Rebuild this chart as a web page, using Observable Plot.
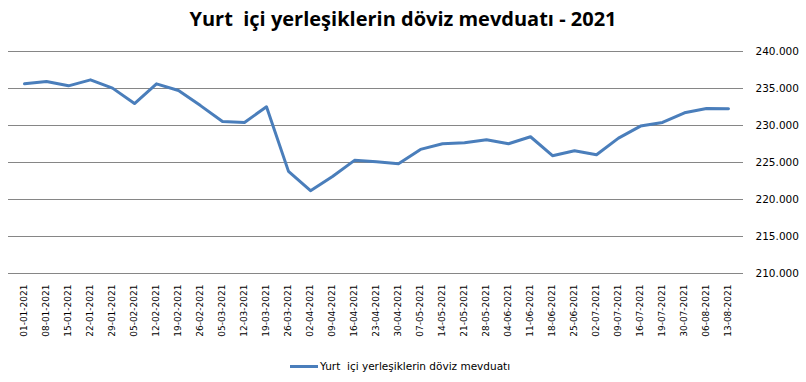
<!DOCTYPE html>
<html>
<head>
<meta charset="utf-8">
<script src="https://cdn.jsdelivr.net/npm/d3@7"></script>
<script src="https://cdn.jsdelivr.net/npm/@observablehq/plot@0.6"></script>
<style>
  html, body { margin: 0; padding: 0; background: #fff; }
  #wrap { position: relative; width: 806px; height: 382px; overflow: hidden; }
  #title { position: absolute; left: 0; top: 5px; width: 806px; text-align: center; white-space: pre;
           font-family: "Open Sans", sans-serif; font-weight: 700; font-size: 20px; color: #000; }
  #chart { position: absolute; left: 0; top: 38px; }
  #legend { position: absolute; left: 290px; top: 360px; font-family: "DejaVu Sans", sans-serif;
            font-size: 10.5px; color: #000; display: flex; align-items: center; white-space: pre; }
  #legend .sw { display: inline-block; width: 28px; height: 3px; background: #4A7EBB; margin-right: 2px; }
</style>
</head>
<body>
<div id="wrap">
  <div id="title">Yurt  içi yerleşiklerin döviz mevduatı - 2021</div>
  <div id="chart"></div>
  <div id="legend"><span class="sw"></span><span>Yurt  içi yerleşiklerin döviz mevduatı</span></div>
</div>
<script>
const seriesName = "Yurt  içi yerleşiklerin döviz mevduatı";
const dates = ["01-01-2021","08-01-2021","15-01-2021","22-01-2021","29-01-2021","05-02-2021","12-02-2021","19-02-2021","26-02-2021","05-03-2021","12-03-2021","19-03-2021","26-03-2021","02-04-2021","09-04-2021","16-04-2021","23-04-2021","30-04-2021","07-05-2021","14-05-2021","21-05-2021","28-05-2021","04-06-2021","11-06-2021","18-06-2021","25-06-2021","02-07-2021","09-07-2021","16-07-2021","19-07-2021","30-07-2021","06-08-2021","13-08-2021"];
const values = [235630,235950,235360,236170,235050,232970,235630,234730,232690,230550,230410,232530,223800,221190,223100,225290,225100,224840,226770,227540,227670,228080,227540,228480,225920,226590,226050,228300,229920,230410,231720,232300,232260];
const yTicks = [210000,215000,220000,225000,230000,235000,240000];

const data = dates.map((d, i) => ({date: d, value: values[i]}));
const fmt = d3.formatLocale({decimal: ",", thousands: ".", grouping: [3], currency: ["", ""]}).format(",.0f");

const chart = Plot.plot({
  width: 806,
  height: 312,
  marginLeft: 8,
  marginRight: 63,
  marginTop: 13,
  marginBottom: 77,
  style: {fontFamily: "DejaVu Sans, sans-serif", fontSize: "10px", color: "#000", background: "transparent"},
  x: {type: "point", domain: dates, padding: 0.5, label: null},
  y: {domain: [210000, 240000], label: null},
  marks: [
    Plot.ruleY(yTicks, {stroke: "#868686", strokeWidth: 1}),
    Plot.axisY({anchor: "right", ticks: yTicks, tickSize: 0, tickPadding: 12, tickFormat: fmt, label: null, fontSize: 10.5}),
    Plot.axisX({anchor: "bottom", tickSize: 0, tickPadding: 11, tickRotate: -90, label: null, fontSize: 9}),
    Plot.line(data, {x: "date", y: "value", stroke: "#4A7EBB", strokeWidth: 3, strokeLinejoin: "round"})
  ]
});
document.getElementById("chart").appendChild(chart);
</script>
</body>
</html>
